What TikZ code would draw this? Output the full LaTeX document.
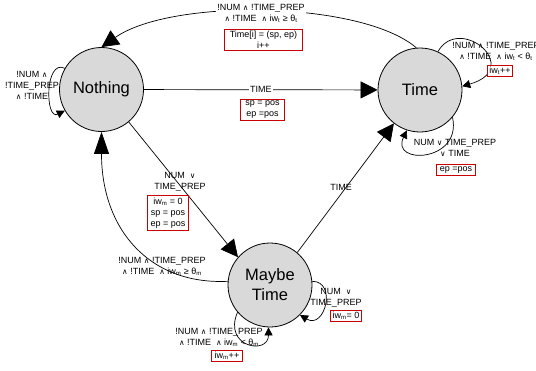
\documentclass[tikz,border=0pt]{standalone}
\usepackage{fontspec}
\setmainfont{Liberation Sans}
\newfontfamily\symf{DejaVu Sans}[Scale=0.85]
\usetikzlibrary{arrows.meta}
\newcommand\AND{{\symf ∧}}
\newcommand\OR{{\symf ∨}}
\definecolor{redbox}{RGB}{204,0,0}
\definecolor{stategray}{RGB}{217,217,217}
\begin{document}
\begin{tikzpicture}[x=1pt,y=-1pt,
 state/.style={circle,draw,line width=0.8pt,fill=stategray,minimum size=84pt,inner sep=0pt,font=\fontsize{16.5}{20}\selectfont,align=center},
 lbl/.style={font=\fontsize{9}{11}\selectfont,align=center,inner sep=1pt},
 act/.style={draw=redbox,line width=0.8pt,fill=white,font=\fontsize{9}{11}\selectfont,align=center,inner xsep=5pt,inner ysep=2pt},
 conn/.style={draw,line width=0.7pt},
 big/.style={conn,-{Triangle[length=17pt,width=17pt]}},
 bigl/.style={conn,-{Triangle[length=22pt,width=15pt]}},
 small/.style={conn,-{Triangle[length=8pt,width=8pt]}},
]
\useasboundingbox (0,0) rectangle (536,370);

\node[state] (N) at (101.5,89.5) {Nothing};
\node[state] (T) at (420,90) {Time};
\node[state] (M) at (270,285) {Maybe\\Time};

% Nothing -> Time
\draw[big] (N) -- (T) node[pos=0.5,lbl,fill=white] (lT) {TIME};
\node[act] (aNT) at (262.5,110) {sp = pos\\ep =pos};

% Time -> Nothing (top)
\draw[big] (T.95) .. controls +(-55,-47) and +(70,-49) .. (N.90);
\node[lbl,fill=white] (lTN) at (261,13) {!NUM \AND{} !TIME\_PREP\\\AND{} !TIME \ \AND{} iw\textsubscript{t} ≥ θ\textsubscript{t}};
\node[act] (aTN) at (263.5,40) {Time[i] = (sp, ep)\\i++};

% Time self loop top-right
\draw[small] (T.65) .. controls +(22,-38) and +(62,-18) .. (T.5);
\node[lbl] (lTT) at (496,51) {!NUM \AND{} !TIME\_PREP\\\AND{} !TIME \ \AND{} iw\textsubscript{t} < θ\textsubscript{t}};
\node[act,inner xsep=2pt] (aTT) at (500,71) {iw\textsubscript{t}++};

% Time self loop bottom
\draw[small] (T.-40) .. controls +(10,45) and +(-17,35) .. (T.-108);
\node[lbl] (lTB) at (455,148) {NUM \OR{} TIME\_PREP\\\OR{} TIME};
\node[act,inner xsep=3pt] (aTB) at (456,170) {ep =pos};

% Nothing self loop
\draw[small] (N.150) .. controls +(-20,-10) and +(-20,10) .. (N.210);
\node[lbl,inner sep=0pt] (lNN) at (32,85) {!NUM \AND\\!TIME\_PREP\\\AND{} !TIME};

% Nothing -> Maybe Time
\draw[big] (N.-50) -- (M.139);
\node[lbl] (lNM) at (180,182) {NUM \ \OR\\TIME\_PREP};
\node[act,inner xsep=3pt] (aNM) at (168,213) {iw\textsubscript{m} = 0\\sp = pos\\ep = pos};

% Maybe Time -> Time
\draw[big] (M.50) -- (T.-128);
\node[lbl] (lMT) at (341,187) {TIME};

% Maybe Time -> Nothing
\draw[bigl] (M.175) .. controls (150,285) and (101.5,230) .. (N.-90);
\node[lbl] (lMN) at (162,266) {!NUM \AND{} !TIME\_PREP\\\AND{} !TIME \ \AND{} iw\textsubscript{m} ≥ θ\textsubscript{m}};

% Maybe Time self loop right
\draw[small] (M.5) .. controls +(25,0) and +(25,15) .. (M.-45);
\node[lbl] (lMR) at (336,298) {NUM \ \OR\\TIME\_PREP};
\node[act,inner xsep=2pt] (aMR) at (346,316) {iw\textsubscript{m}= 0};

% Maybe Time self loop bottom
\draw[small] (M.-140) .. controls +(-15,35) and +(0,28) .. (M.-92);
\node[lbl] (lMB) at (219,337) {!NUM \AND{} !TIME\_PREP\\\AND{} !TIME \ \AND{} iw\textsubscript{m} < θ\textsubscript{m}};
\node[act,inner xsep=3pt] (aMB) at (227,356) {iw\textsubscript{m}++};
\end{tikzpicture}
\end{document}
